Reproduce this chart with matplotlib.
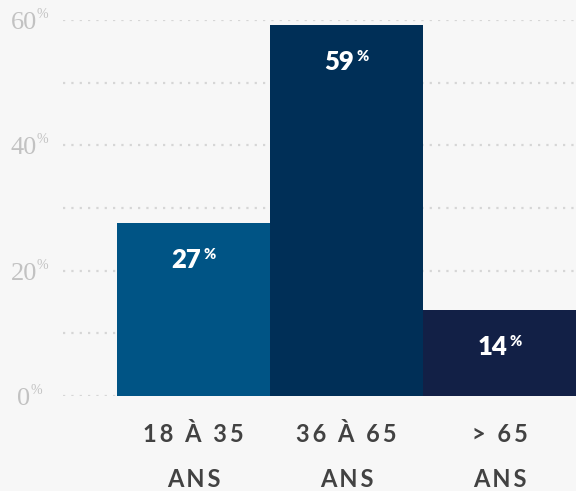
import matplotlib
matplotlib.use("Agg")
import matplotlib.pyplot as plt

# données
age_ranges = ["18 À 35", "36 À 65", "> 65"]
unit_label = "ANS"
values = [27.6, 59.2, 13.7]
value_labels = ["27", "59", "14"]
y_ticks = [0, 20, 40, 60]
grid_levels = [0, 10, 20, 30, 40, 50, 60]

bar_colors = ["#005485", "#002f57", "#122046"]
bg = "#f7f7f7"
grey_txt = "#c2c2c2"
dark_txt = "#424242"

SANS = ["Lato", "DejaVu Sans"]
SERIF = ["Liberation Serif", "DejaVu Serif"]

fig = plt.figure(figsize=(5.76, 4.91), dpi=100)
fig.patch.set_facecolor(bg)
ax = fig.add_axes([63 / 576, 95 / 491, 513 / 576, 376 / 491])
ax.set_facecolor(bg)
ax.set_xlim(2.5 - 513 / 153, 2.5)
ax.set_ylim(0, 60)
for s in ax.spines.values():
    s.set_visible(False)
ax.set_xticks([])
ax.set_yticks([])

# lignes pointillées
for g in grid_levels:
    ax.axhline(g, color="#d6d6d6", lw=1.6, linestyle=(0, (1, 2.75)), zorder=0)

x = range(len(values))
ax.bar(x, values, width=1.0, color=bar_colors, zorder=2)


def spaced(s, sep="\u2009"):
    return sep.join(s)


def pair(xy, xycoords, num, num_kw, pct_kw, dy_num, dy_pct, gap, cx=0):
    t1 = ax.annotate(num, xy=xy, xycoords=xycoords, xytext=(0, dy_num),
                     textcoords="offset pixels", ha="left", va="baseline",
                     annotation_clip=False, **num_kw)
    t2 = ax.annotate("%", xy=xy, xycoords=xycoords, xytext=(0, dy_pct),
                     textcoords="offset pixels", ha="left", va="baseline",
                     annotation_clip=False, **pct_kw)
    return t1, t2, gap, cx, dy_num, dy_pct


pairs = []
# étiquettes de l'axe y
for v in y_ticks:
    pairs.append(pair((0, v), ("axes fraction", "data"), str(v),
                      dict(family=SERIF, fontsize=19, color=grey_txt),
                      dict(family=SERIF, fontsize=10, color=grey_txt),
                      -9, 2, 0, cx=-33.5))

# valeurs dans les barres
for i, (v, lab) in enumerate(zip(values, value_labels)):
    pairs.append(pair((i, v), "data", lab,
                      dict(family=SANS, fontsize=18.5, fontweight="heavy", color="white"),
                      dict(family=SANS, fontsize=10.5, fontweight="heavy", color="white"),
                      -45, -36, 2))

fig.canvas.draw()
r = fig.canvas.get_renderer()
for t1, t2, gap, cx, dy1, dy2 in pairs:
    w1 = t1.get_window_extent(r).width
    w2 = t2.get_window_extent(r).width
    left = cx - (w1 + gap + w2) / 2
    t1.xyann = (left, dy1)
    t2.xyann = (left + w1 + gap, dy2)

# étiquettes des catégories
for i, rng in enumerate(age_ranges):
    ax.annotate(spaced(rng), xy=(i, 0), xycoords=("data", "axes fraction"),
                xytext=(0, -46), textcoords="offset pixels", ha="center",
                va="baseline", family=SANS, fontsize=17, fontweight="bold",
                color=dark_txt, annotation_clip=False)
    ax.annotate(spaced(unit_label), xy=(i, 0), xycoords=("data", "axes fraction"),
                xytext=(0, -91), textcoords="offset pixels", ha="center",
                va="baseline", family=SANS, fontsize=17, fontweight="bold",
                color=dark_txt, annotation_clip=False)

fig.savefig("out.png", dpi=100, facecolor=bg)
